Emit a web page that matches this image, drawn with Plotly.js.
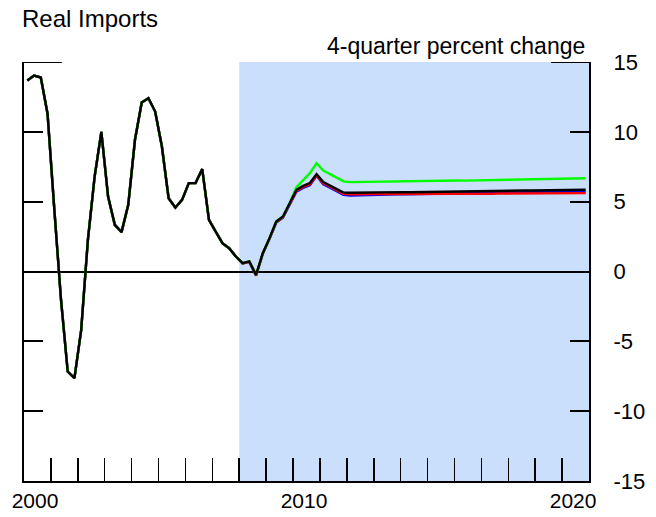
<!DOCTYPE html>
<html>
<head>
<meta charset="utf-8">
<script src="https://cdn.plot.ly/plotly-3.0.1.min.js"></script>
<style>
  html, body { margin: 0; padding: 0; background: #fff; }
  #chart { width: 656px; height: 517px; }
</style>
</head>
<body>
<div id="chart"></div>
<script>
// Quarterly data, first observation 2000:Q1
const startYear = 2000;

// History (2000:Q1 - 2007:Q4), 4-quarter percent change
const history = [
  13.67, 14.03, 13.89, 11.3,
  4.5, -2.0, -7.16, -7.63,
  -4.2, 2.27, 6.8, 10.0,
  5.37, 3.34, 2.82, 4.77,
  9.43, 12.1, 12.41, 11.45,
  8.95, 5.25, 4.58, 5.13,
  6.33, 6.33, 7.33, 3.70,
  2.86, 2.03, 1.67, 1.07
];

// Projections (2008:Q1 - 2020:Q4)
const baseline = [
  0.60, 0.72, -0.24, 1.31,
  2.39, 3.58, 3.94, 4.90,
  5.85, 6.13, 6.33, 6.97,
  6.40, 6.15, 5.90, 5.66,
  5.64, 5.65, 5.66, 5.67,
  5.67, 5.66, 5.68, 5.69,
  5.68, 5.67, 5.68, 5.70,
  5.71, 5.70, 5.71, 5.72,
  5.73, 5.74, 5.74, 5.75,
  5.76, 5.76, 5.77, 5.78,
  5.79, 5.79, 5.80, 5.80,
  5.81, 5.82, 5.82, 5.83,
  5.84, 5.84, 5.85, 5.85
];
const greenAlt = [
  0.60, 0.72, -0.24, 1.31,
  2.39, 3.58, 3.94, 4.90,
  6.04, 6.56, 7.04, 7.76,
  7.23, 6.97, 6.68, 6.45,
  6.40, 6.41, 6.42, 6.43,
  6.42, 6.41, 6.44, 6.47,
  6.46, 6.45, 6.46, 6.47,
  6.49, 6.50, 6.52, 6.55,
  6.52, 6.51, 6.52, 6.53,
  6.53, 6.54, 6.56, 6.58,
  6.59, 6.60, 6.61, 6.63,
  6.62, 6.61, 6.64, 6.66,
  6.65, 6.64, 6.67, 6.68
];
const blueAlt = [
  0.57, 0.69, -0.28, 1.27,
  2.34, 3.50, 3.85, 4.80,
  5.72, 5.98, 6.18, 6.85,
  6.25, 6.00, 5.75, 5.49,
  5.44, 5.46, 5.48, 5.50,
  5.50, 5.51, 5.52, 5.53,
  5.53, 5.54, 5.55, 5.56,
  5.56, 5.57, 5.58, 5.59,
  5.60, 5.61, 5.62, 5.63,
  5.63, 5.64, 5.65, 5.65,
  5.66, 5.67, 5.67, 5.68,
  5.68, 5.69, 5.69, 5.70,
  5.70, 5.71, 5.71, 5.72
];
const redAlt = [
  0.58, 0.70, -0.30, 1.28,
  2.36, 3.52, 3.88, 4.85,
  5.78, 6.05, 6.24, 6.88,
  6.32, 6.08, 5.80, 5.56,
  5.53, 5.54, 5.54, 5.55,
  5.55, 5.55, 5.56, 5.56,
  5.55, 5.56, 5.56, 5.57,
  5.56, 5.57, 5.57, 5.57,
  5.57, 5.56, 5.57, 5.58,
  5.58, 5.57, 5.58, 5.58,
  5.59, 5.58, 5.59, 5.59,
  5.60, 5.59, 5.60, 5.60,
  5.60, 5.61, 5.61, 5.61
];

const yTickVals = [-15, -10, -5, 0, 5, 10, 15];
const yTickText = ["-15", "-10", "-5", "0", "5", "10", "15"];
const xTickYears = [2000, 2001, 2002, 2003, 2004, 2005, 2006, 2007, 2008, 2009, 2010,
                    2011, 2012, 2013, 2014, 2015, 2016, 2017, 2018, 2019, 2020];
const xTickText = xTickYears.map(y => (y % 10 === 0 ? String(y) : ""));

const shadeStart = 2008;
const xEnd = 2021;

function qx(n) {
  const out = [];
  for (let i = 0; i < n; i++) out.push(startYear + (i + 0.5) / 4);
  return out;
}

function series(proj, color, width) {
  const y = history.concat(proj);
  return {
    x: qx(y.length), y: y, type: 'scatter', mode: 'lines',
    line: { color: color, width: width }, hoverinfo: 'skip', showlegend: false
  };
}

const traces = [
  series(blueAlt, '#0000ff', 2.4),
  series(redAlt, '#ff0000', 2.4),
  series(greenAlt, '#00ff00', 2.4),
  series(baseline, '#000000', 2.4)
];

const layout = {
  width: 656, height: 517,
  margin: { l: 24, r: 67, t: 62, b: 36 },
  paper_bgcolor: '#ffffff', plot_bgcolor: '#ffffff',
  font: { family: 'Liberation Sans, Arial, sans-serif', color: '#000', size: 22 },
  showlegend: false,
  xaxis: {
    range: [startYear, xEnd], showgrid: false, zeroline: false,
    showline: true, linecolor: '#000', linewidth: 2, mirror: false,
    ticks: 'inside', ticklen: 23, tickwidth: 1.5, tickcolor: '#000',
    tickmode: 'array', tickvals: xTickYears, ticktext: xTickText,
    ticklabelshift: 11, tickfont: { size: 21 }, fixedrange: true
  },
  yaxis: {
    range: [-15, 15], side: 'right', showgrid: false,
    zeroline: true, zerolinecolor: '#000', zerolinewidth: 2,
    showline: true, linecolor: '#000', linewidth: 2, mirror: 'ticks',
    ticks: 'inside', ticklen: 19, tickwidth: 2, tickcolor: '#000',
    tickmode: 'array', tickvals: yTickVals, ticktext: yTickText,
    ticklabelstandoff: 18, tickfont: { size: 22 }, fixedrange: true
  },
  shapes: [
    { type: 'rect', layer: 'below', xref: 'x', yref: 'y',
      x0: shadeStart, x1: xEnd, y0: -15, y1: 15,
      fillcolor: 'rgb(202,223,251)', line: { width: 0 } },
    { type: 'line', xref: 'paper', yref: 'y', x0: 0, x1: 0.067, y0: 15, y1: 15,
      line: { color: '#000', width: 2 } },
    { type: 'line', xref: 'paper', yref: 'y', x0: 0.933, x1: 1, y0: 15, y1: 15,
      line: { color: '#000', width: 2 } }
  ],
  annotations: [
    { text: 'Real Imports', xref: 'paper', yref: 'paper', x: 0, y: 1,
      xanchor: 'left', yanchor: 'bottom', xshift: -4, yshift: 28,
      showarrow: false, font: { size: 24, color: '#000' } },
    { text: '4-quarter percent change', xref: 'paper', yref: 'paper', x: 1, y: 1,
      xanchor: 'right', yanchor: 'bottom', xshift: -2, yshift: 1,
      showarrow: false, font: { size: 23, color: '#000' } }
  ]
};

Plotly.newPlot('chart', traces, layout, { displayModeBar: false, staticPlot: true });
</script>
</body>
</html>
